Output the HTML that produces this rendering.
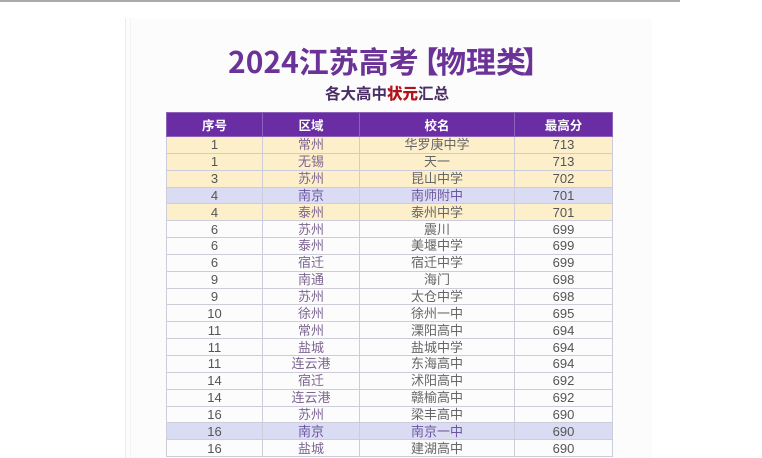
<!DOCTYPE html>
<html><head><meta charset="utf-8">
<style>
html,body{margin:0;padding:0;background:#fff;}
body{width:762px;height:452px;position:relative;overflow:hidden;font-family:"Liberation Sans","Noto Sans CJK SC",sans-serif;}
.topline{position:absolute;left:0;top:0;width:680px;height:2px;background:#a9a9a9;}
.card{position:absolute;left:125px;top:18px;width:526px;height:440px;background:#fcfcfc;border-left:1px solid #ececec;}
.card2{position:absolute;left:130px;top:18px;width:1px;height:440px;background:#f3f3f3;}
.t{position:absolute;font-family:"Noto Sans CJK SC",sans-serif;font-weight:700;color:#6b3297;font-size:30px;line-height:30px;white-space:nowrap;}
.sub{position:absolute;left:325px;top:84px;font-family:"Noto Sans CJK SC",sans-serif;font-weight:700;font-size:15.5px;line-height:18px;color:#4a2d66;white-space:nowrap;}
.sub b{color:#b3121b;}
table{position:absolute;left:166px;top:112px;width:446px;border-collapse:collapse;table-layout:fixed;font-family:"Liberation Sans","Noto Sans CJK SC",sans-serif;font-size:13px;}
td,th{padding:0;text-align:center;border:1px solid #cdcdd9;line-height:15px;overflow:hidden;white-space:nowrap;}
th{background:#6a2da3;color:#fff;font-weight:700;height:23px;border-color:#8d62bb;font-family:"Noto Sans CJK SC",sans-serif;font-size:12.5px;}
tr.r td{height:15.85px;}
td.n{color:#555;}
td.a{color:#7d6692;}
td.s{color:#666;}
td.v{color:#555;}
tr.y td{background:#fcefca;}
tr.l td{background:#dadcf3;}
tr.l td.a,tr.l td.s{color:#6c56a0;}
</style></head><body>
<div class="topline"></div>
<div class="card"></div>
<div class="card2"></div>
<div class="t" style="left:228px;top:45px;">2024江苏高考</div>
<div class="t" style="left:409px;top:45px;">【</div>
<div class="t" style="left:436px;top:45px;">物理类</div>
<div class="t" style="left:522px;top:45px;">】</div>
<div class="sub">各大高中<b>状元</b>汇总</div>
<table>
<colgroup><col style="width:96px"><col style="width:97px"><col style="width:155px"><col style="width:98px"></colgroup>
<tr><th>序号</th><th>区域</th><th>校名</th><th>最高分</th></tr>
<tr class="r y"><td class="n">1</td><td class="a">常州</td><td class="s">华罗庚中学</td><td class="v">713</td></tr>
<tr class="r y"><td class="n">1</td><td class="a">无锡</td><td class="s">天一</td><td class="v">713</td></tr>
<tr class="r y"><td class="n">3</td><td class="a">苏州</td><td class="s">昆山中学</td><td class="v">702</td></tr>
<tr class="r l"><td class="n">4</td><td class="a">南京</td><td class="s">南师附中</td><td class="v">701</td></tr>
<tr class="r y"><td class="n">4</td><td class="a">泰州</td><td class="s">泰州中学</td><td class="v">701</td></tr>
<tr class="r"><td class="n">6</td><td class="a">苏州</td><td class="s">震川</td><td class="v">699</td></tr>
<tr class="r"><td class="n">6</td><td class="a">泰州</td><td class="s">美堰中学</td><td class="v">699</td></tr>
<tr class="r"><td class="n">6</td><td class="a">宿迁</td><td class="s">宿迁中学</td><td class="v">699</td></tr>
<tr class="r"><td class="n">9</td><td class="a">南通</td><td class="s">海门</td><td class="v">698</td></tr>
<tr class="r"><td class="n">9</td><td class="a">苏州</td><td class="s">太仓中学</td><td class="v">698</td></tr>
<tr class="r"><td class="n">10</td><td class="a">徐州</td><td class="s">徐州一中</td><td class="v">695</td></tr>
<tr class="r"><td class="n">11</td><td class="a">常州</td><td class="s">溧阳高中</td><td class="v">694</td></tr>
<tr class="r"><td class="n">11</td><td class="a">盐城</td><td class="s">盐城中学</td><td class="v">694</td></tr>
<tr class="r"><td class="n">11</td><td class="a">连云港</td><td class="s">东海高中</td><td class="v">694</td></tr>
<tr class="r"><td class="n">14</td><td class="a">宿迁</td><td class="s">沭阳高中</td><td class="v">692</td></tr>
<tr class="r"><td class="n">14</td><td class="a">连云港</td><td class="s">赣榆高中</td><td class="v">692</td></tr>
<tr class="r"><td class="n">16</td><td class="a">苏州</td><td class="s">梁丰高中</td><td class="v">690</td></tr>
<tr class="r l"><td class="n">16</td><td class="a">南京</td><td class="s">南京一中</td><td class="v">690</td></tr>
<tr class="r"><td class="n">16</td><td class="a">盐城</td><td class="s">建湖高中</td><td class="v">690</td></tr>
</table>
</body></html>
